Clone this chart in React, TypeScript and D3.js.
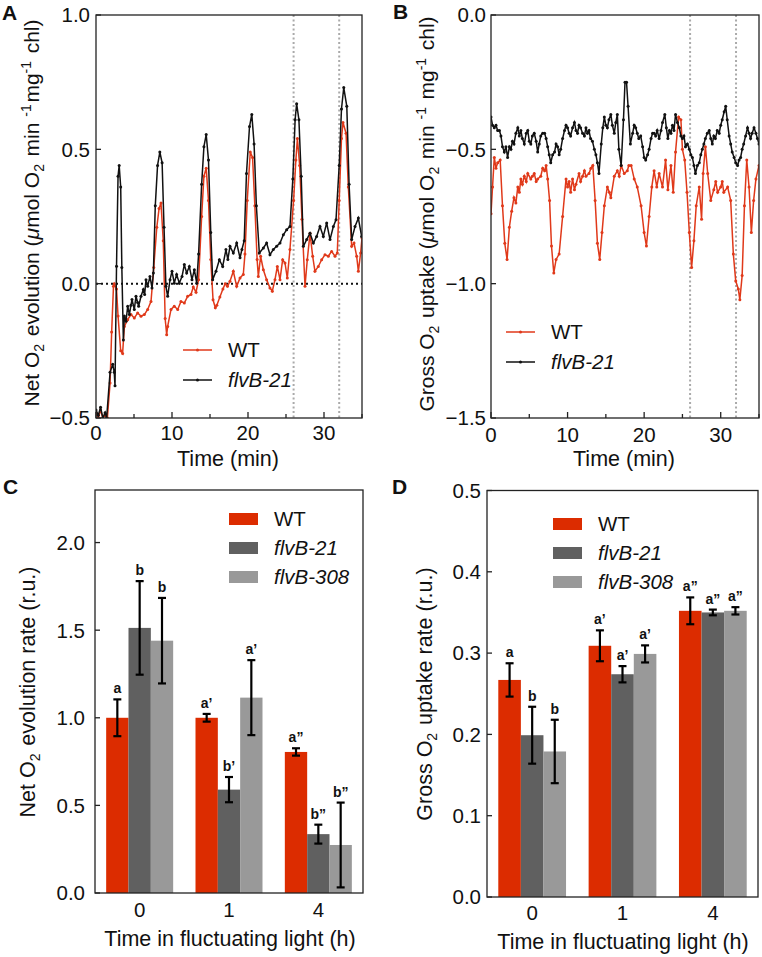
import React from 'react';
import * as d3 from 'd3';

// time courses, [time (min), rate]
const netWT: [number, number][] = [
  [0, -0.48], [0.3, -0.5], [0.6, -0.47], [0.9, -0.5], [1.2, -0.49], [1.5, -0.5], [1.85, -0.37], [2.06, -0.18],
  [2.3, -0.01], [2.4, 0.0], [2.7, -0.02], [2.9, -0.12], [3.25, -0.25], [3.5, -0.26], [3.73, -0.159], [4.17, -0.134],
  [4.6, -0.115], [5.04, -0.128], [5.48, -0.109], [5.92, -0.121], [6.36, -0.115], [6.8, -0.096], [7.24, -0.066], [7.6, 0.06],
  [8.0, 0.21], [8.3, 0.28], [8.55, 0.3], [8.85, 0.16], [9.1, -0.13], [9.3, -0.19], [9.43, -0.159], [9.87, -0.096],
  [10.3, -0.084], [10.75, -0.096], [11.18, -0.066], [11.62, -0.072], [12.06, -0.047], [12.5, -0.04], [12.8, -0.012], [13.16, -0.032],
  [13.5, 0.015], [13.9, 0.25], [14.2, 0.4], [14.5, 0.43], [14.8, 0.31], [15.1, 0.09], [15.4, -0.06], [15.7, -0.09],
  [15.9, -0.08], [16.3, -0.05], [16.7, -0.02], [17.0, 0.0], [17.3, -0.01], [17.63, 0.009], [18.07, 0.046], [18.51, -0.01],
  [18.95, 0.021], [19.38, 0.034], [19.6, 0.11], [19.9, 0.31], [20.3, 0.49], [20.6, 0.47], [20.9, 0.29], [21.2, 0.09],
  [21.36, 0.027], [21.66, 0.102], [22.02, 0.052], [22.45, 0.015], [22.89, -0.016], [23.2, -0.028], [23.55, 0.015], [23.86, 0.064],
  [24.21, 0.015], [24.56, 0.089], [24.87, 0.077], [25.17, 0.021], [25.52, 0.127], [26.0, 0.31], [26.3, 0.46], [26.5, 0.54],
  [26.8, 0.44], [27.1, 0.24], [27.5, -0.01], [27.8, 0.089], [28.16, 0.188], [28.51, 0.102], [28.81, 0.046], [29.25, 0.064],
  [29.69, 0.089], [30.13, 0.108], [30.57, 0.102], [31.0, 0.12], [31.45, 0.102], [31.75, 0.114], [32.0, 0.31], [32.3, 0.54],
  [32.5, 0.6], [32.9, 0.56], [33.2, 0.36], [33.64, 0.139], [33.95, 0.151], [34.3, 0.102], [34.52, 0.046], [34.82, 0.114],
  [35.0, 0.17],
];
const netFlvB21: [number, number][] = [
  [0, -0.47], [0.3, -0.49], [0.6, -0.46], [0.9, -0.5], [1.2, -0.48], [1.4, -0.5], [1.85, -0.33], [2.2, -0.3],
  [2.4, -0.33], [2.5, -0.38], [2.7, 0.065], [2.9, 0.4], [3.05, 0.44], [3.25, 0.36], [3.4, 0.06], [3.6, -0.21],
  [3.73, -0.12], [3.95, -0.14], [4.17, -0.084], [4.39, -0.115], [4.6, -0.08], [4.74, -0.059], [5.04, -0.096], [5.26, -0.047],
  [5.48, -0.07], [5.61, -0.084], [5.92, -0.047], [6.23, -0.022], [6.4, -0.04], [6.58, 0.015], [6.8, -0.01], [7.1, 0.027],
  [7.37, -0.016], [7.55, 0.04], [7.8, 0.29], [8.1, 0.44], [8.4, 0.49], [8.7, 0.45], [8.95, 0.21], [9.2, -0.01],
  [9.43, -0.047], [9.74, 0.015], [10.0, 0.046], [10.3, 0.002], [10.61, 0.034], [10.96, 0.002], [11.32, 0.027], [11.62, 0.071],
  [11.93, 0.04], [12.28, 0.064], [12.63, 0.015], [12.94, 0.052], [13.25, 0.002], [13.5, 0.11], [13.9, 0.37], [14.2, 0.51],
  [14.5, 0.555], [14.8, 0.46], [15.1, 0.19], [15.35, 0.015], [15.79, 0.046], [16.23, 0.089], [16.67, 0.064], [17.1, 0.127],
  [17.35, 0.09], [17.63, 0.139], [18.07, 0.114], [18.51, 0.151], [18.95, 0.096], [19.2, 0.127], [19.5, 0.16], [19.8, 0.41],
  [20.2, 0.585], [20.5, 0.63], [20.8, 0.52], [21.1, 0.29], [21.49, 0.114], [22.02, 0.133], [22.45, 0.151], [22.89, 0.108],
  [23.33, 0.127], [23.77, 0.139], [24.21, 0.151], [24.65, 0.182], [25.09, 0.201], [25.52, 0.213], [25.9, 0.39], [26.2, 0.61],
  [26.4, 0.67], [26.7, 0.61], [27.0, 0.4], [27.28, 0.139], [27.72, 0.164], [28.16, 0.188], [28.6, 0.151], [29.03, 0.176],
  [29.47, 0.213], [29.91, 0.176], [30.35, 0.226], [30.79, 0.164], [31.23, 0.213], [31.58, 0.238], [32.0, 0.44], [32.3, 0.65],
  [32.6, 0.73], [33.0, 0.66], [33.3, 0.37], [33.64, 0.164], [34.08, 0.213], [34.52, 0.244], [34.95, 0.176],
];
const grossWT: [number, number][] = [
  [0, -0.74], [0.2, -0.64], [0.43, -0.53], [0.65, -0.57], [0.87, -0.55], [1.2, -0.54], [1.5, -0.71], [1.8, -0.85],
  [2.1, -0.91], [2.4, -0.79], [2.7, -0.73], [3.0, -0.68], [3.25, -0.7], [3.5, -0.64], [3.7, -0.66], [3.9, -0.61],
  [4.1, -0.63], [4.35, -0.6], [4.6, -0.62], [4.8, -0.59], [5.2, -0.61], [5.4, -0.6], [5.65, -0.59], [5.9, -0.62],
  [6.1, -0.61], [6.5, -0.6], [6.75, -0.57], [7.0, -0.58], [7.2, -0.56], [7.4, -0.61], [7.65, -0.69], [7.9, -0.86],
  [8.2, -0.96], [8.5, -0.91], [8.9, -0.89], [9.35, -0.75], [9.8, -0.61], [10.0, -0.64], [10.2, -0.62], [10.4, -0.66],
  [10.65, -0.61], [10.9, -0.65], [11.1, -0.63], [11.5, -0.59], [11.7, -0.62], [11.96, -0.6], [12.2, -0.58], [12.4, -0.6],
  [12.8, -0.59], [13.05, -0.57], [13.3, -0.56], [13.6, -0.69], [13.9, -0.85], [14.2, -0.91], [14.5, -0.81], [14.8, -0.71],
  [15.2, -0.64], [15.45, -0.66], [15.65, -0.68], [16.1, -0.6], [16.5, -0.58], [16.75, -0.6], [17.0, -0.56], [17.4, -0.59],
  [17.8, -0.58], [18.0, -0.56], [18.3, -0.56], [18.7, -0.61], [19.1, -0.64], [19.6, -0.71], [20.0, -0.81], [20.3, -0.86],
  [20.65, -0.75], [21.0, -0.64], [21.3, -0.58], [21.65, -0.64], [21.96, -0.59], [22.4, -0.64], [22.8, -0.54], [23.1, -0.65],
  [23.5, -0.56], [23.8, -0.66], [24.1, -0.51], [24.5, -0.38], [24.8, -0.39], [25.0, -0.5], [25.3, -0.54], [25.6, -0.66],
  [25.9, -0.81], [26.2, -0.94], [26.5, -0.84], [26.8, -0.71], [27.2, -0.64], [27.5, -0.76], [27.7, -0.59], [28.0, -0.49],
  [28.3, -0.59], [28.7, -0.69], [29.1, -0.65], [29.35, -0.62], [29.6, -0.66], [30.0, -0.64], [30.2, -0.62], [30.4, -0.66],
  [30.9, -0.64], [31.3, -0.69], [31.65, -0.89], [31.96, -0.99], [32.3, -1.02], [32.5, -1.06], [32.8, -0.97], [33.1, -0.71],
  [33.4, -0.54], [33.7, -0.64], [34.0, -0.81], [34.3, -0.69], [34.6, -0.61], [35.0, -0.56],
];
const grossFlvB21: [number, number][] = [
  [0, -0.38], [0.2, -0.41], [0.43, -0.42], [0.65, -0.41], [0.87, -0.43], [1.1, -0.43], [1.3, -0.45], [1.5, -0.49],
  [1.74, -0.51], [1.95, -0.49], [2.17, -0.53], [2.4, -0.49], [2.6, -0.5], [2.8, -0.47], [3.0, -0.48], [3.25, -0.44],
  [3.5, -0.42], [3.7, -0.45], [3.9, -0.43], [4.1, -0.46], [4.35, -0.48], [4.6, -0.44], [4.8, -0.43], [5.0, -0.47],
  [5.2, -0.48], [5.4, -0.45], [5.65, -0.44], [5.9, -0.47], [6.1, -0.51], [6.3, -0.48], [6.5, -0.45], [6.75, -0.44],
  [7.0, -0.44], [7.2, -0.46], [7.4, -0.49], [7.6, -0.52], [7.8, -0.55], [8.05, -0.52], [8.3, -0.51], [8.5, -0.48],
  [8.7, -0.49], [8.9, -0.52], [9.1, -0.5], [9.35, -0.46], [9.6, -0.43], [9.8, -0.41], [10.0, -0.42], [10.2, -0.44],
  [10.4, -0.45], [10.65, -0.42], [10.9, -0.4], [11.1, -0.43], [11.3, -0.44], [11.5, -0.41], [11.7, -0.42], [11.96, -0.44],
  [12.2, -0.45], [12.4, -0.42], [12.6, -0.44], [12.8, -0.43], [13.0, -0.46], [13.25, -0.47], [13.5, -0.5], [13.7, -0.52],
  [13.9, -0.55], [14.1, -0.59], [14.4, -0.48], [14.6, -0.42], [14.8, -0.38], [15.0, -0.41], [15.2, -0.42], [15.4, -0.39],
  [15.65, -0.37], [15.85, -0.41], [16.1, -0.44], [16.3, -0.4], [16.5, -0.37], [16.7, -0.5], [17.0, -0.56], [17.3, -0.39],
  [17.5, -0.25], [17.7, -0.25], [17.9, -0.34], [18.2, -0.48], [18.5, -0.44], [18.7, -0.41], [18.9, -0.42], [19.1, -0.44],
  [19.3, -0.46], [19.55, -0.45], [19.8, -0.49], [20.0, -0.53], [20.2, -0.54], [20.45, -0.52], [20.65, -0.5], [20.9, -0.46],
  [21.1, -0.44], [21.3, -0.44], [21.5, -0.45], [21.7, -0.43], [21.96, -0.46], [22.2, -0.43], [22.4, -0.4], [22.7, -0.37],
  [22.9, -0.42], [23.1, -0.46], [23.3, -0.43], [23.5, -0.44], [23.7, -0.41], [23.9, -0.43], [24.1, -0.37], [24.35, -0.4],
  [24.6, -0.42], [24.8, -0.45], [25.0, -0.46], [25.2, -0.45], [25.4, -0.49], [25.65, -0.48], [25.9, -0.5], [26.1, -0.52],
  [26.3, -0.53], [26.5, -0.56], [26.7, -0.59], [26.95, -0.56], [27.2, -0.55], [27.4, -0.52], [27.6, -0.5], [27.8, -0.48],
  [28.0, -0.46], [28.25, -0.44], [28.5, -0.43], [28.7, -0.46], [28.9, -0.48], [29.1, -0.45], [29.3, -0.46], [29.55, -0.43],
  [29.8, -0.44], [30.0, -0.41], [30.2, -0.39], [30.45, -0.36], [30.65, -0.34], [30.85, -0.39], [31.1, -0.45], [31.3, -0.48],
  [31.5, -0.51], [31.75, -0.53], [31.96, -0.55], [32.2, -0.56], [32.4, -0.54], [32.6, -0.53], [32.8, -0.5], [33.0, -0.48],
  [33.25, -0.45], [33.5, -0.42], [33.7, -0.44], [33.9, -0.46], [34.1, -0.44], [34.35, -0.42], [34.6, -0.44], [34.8, -0.46],
  [35.0, -0.48],
];

// bar panels
const groups = ['0', '1', '4'];
const strains = ['WT', 'flvB-21', 'flvB-308'];
const netRateWT = [1.0, 1.0, 0.805];
const netRateWTErr = [0.105, 0.022, 0.021];
const netRateB21 = [1.513, 0.59, 0.336];
const netRateB21Err = [0.267, 0.072, 0.054];
const netRateB308 = [1.44, 1.115, 0.274];
const netRateB308Err = [0.244, 0.214, 0.242];
const netLetters = [['a', 'a’', 'a”'], ['b', 'b’', 'b”'], ['b', 'a’', 'b”']];

const grossRateWT = [0.267, 0.309, 0.352];
const grossRateWTErr = [0.0205, 0.019, 0.0165];
const grossRateB21 = [0.199, 0.274, 0.35];
const grossRateB21Err = [0.035, 0.01, 0.0035];
const grossRateB308 = [0.179, 0.299, 0.352];
const grossRateB308Err = [0.039, 0.0105, 0.0045];
const grossLetters = [['a', 'a’', 'a”'], ['b', 'a’', 'a”'], ['b', 'a’', 'a”']];

const FONT = 'Liberation Sans, Arial, Helvetica, sans-serif';
const RED_LINE = '#e0391a';
const BAR_COLORS = ['#dc2c00', '#606060', '#999999'];

const Sub = ({ children, size = 14 }: any) => (
  <>
    <tspan dy={5} fontSize={size}>{children}</tspan>
    <tspan dy={-5}>{'\u200A'}</tspan>
  </>
);
const Sup = ({ children, size = 14 }: any) => (
  <>
    <tspan dy={-8} fontSize={size}>{children}</tspan>
    <tspan dy={8}>{'\u200A'}</tspan>
  </>
);

const TimePanel = ({ id, x0, x1, y0, y1, yDomain, yTicks, series, legend, zeroLine, title, titleX, titleY, tickLabelEnd, xLabelY }: any) => {
  const x = d3.scaleLinear().domain([0, 35]).range([x0, x1]);
  const y = d3.scaleLinear().domain(yDomain).range([y1, y0]);
  const line = d3.line<[number, number]>().x(d => x(d[0])).y(d => y(d[1]));
  const fmt = d3.format('.1f');
  return (
    <g>
      <defs>
        <clipPath id={`clip-${id}`}>
          <rect x={x0} y={y0} width={x1 - x0} height={y1 - y0} />
        </clipPath>
      </defs>
      {[26, 32].map(t => (
        <line key={t} x1={x(t)} x2={x(t)} y1={y0} y2={y1} stroke="#aaaaaa" strokeWidth={2} strokeDasharray="2,2.5" />
      ))}
      {zeroLine && (
        <line x1={x0} x2={x1} y1={y(0)} y2={y(0)} stroke="#111" strokeWidth={2} strokeDasharray="2,3" />
      )}
      <g clipPath={`url(#clip-${id})`}>
        {series.map((s: any) => (
          <g key={s.name}>
            <path d={line(s.data) || ''} fill="none" stroke={s.color} strokeWidth={1.5} />
            {s.data.map((d: [number, number], i: number) => (
              <circle key={i} cx={x(d[0])} cy={y(d[1])} r={1.5} fill={s.color} />
            ))}
          </g>
        ))}
      </g>
      <rect x={x0} y={y0} width={x1 - x0} height={y1 - y0} fill="none" stroke="#222" strokeWidth={1.3} />
      {yTicks.map((v: number) => (
        <g key={v}>
          <line x1={x0} x2={x0 + 5} y1={y(v)} y2={y(v)} stroke="#222" strokeWidth={1.3} />
          <text x={tickLabelEnd} y={y(v)} dy="0.36em" textAnchor="end" fontSize={20.5} fontFamily={FONT} fill="#111">
            {fmt(v)}
          </text>
        </g>
      ))}
      {[0, 5, 10, 15, 20, 25, 30, 35].map(t => (
        <line key={t} x1={x(t)} x2={x(t)} y1={y1} y2={y1 - (t % 10 === 0 ? 6 : 4)} stroke="#222" strokeWidth={1.3} />
      ))}
      {[0, 10, 20, 30].map(t => (
        <text key={t} x={x(t)} y={xLabelY} textAnchor="middle" fontSize={20.5} fontFamily={FONT} fill="#111">
          {t}
        </text>
      ))}
      <text x={(x0 + x1) / 2 - 1} y={466} textAnchor="middle" fontSize={21.5} fontFamily={FONT} fill="#111">
        Time (min)
      </text>
      {series.map((s: any, i: number) => (
        <g key={s.name}>
          <line x1={legend.x} x2={legend.x + 29} y1={legend.y + i * 30} y2={legend.y + i * 30} stroke={s.color} strokeWidth={1.5} />
          <circle cx={legend.x + 14.5} cy={legend.y + i * 30} r={1.5} fill={s.color} />
          <text x={legend.x + 45} y={legend.y + i * 30} dy="0.36em" fontSize={20.5} fontFamily={FONT} fill="#111"
            fontStyle={s.italic ? 'italic' : 'normal'}>
            {s.name}
          </text>
        </g>
      ))}
      <text transform={`translate(${titleX},${titleY}) rotate(-90)`} textAnchor="middle" fontSize={21} fontFamily={FONT} fill="#111">
        {title}
      </text>
    </g>
  );
};

const BarPanel = ({ x0, x1, y0, y1, yMax, yTicks, values, errors, letters, legend, title, titleX, titleY, tickLabelEnd, xLabelY, xTitleX, xTitleY }: any) => {
  const xb = d3.scaleBand().domain(groups).range([x0, x1]).paddingInner(0.25).paddingOuter(0.125);
  const xs = d3.scaleBand().domain(strains).range([0, xb.bandwidth()]);
  const y = d3.scaleLinear().domain([0, yMax]).range([y1, y0]);
  const fmt = d3.format('.1f');
  return (
    <g>
      {strains.map((s, si) =>
        groups.map((g, gi) => {
          const bx = (xb(g) as number) + (xs(s) as number);
          const w = xs.bandwidth();
          const v = values[si][gi];
          const e = errors[si][gi];
          const cx = bx + w / 2;
          return (
            <g key={s + g}>
              <rect x={bx} y={y(v)} width={w} height={y(0) - y(v)} fill={BAR_COLORS[si]} />
              <line x1={cx} x2={cx} y1={y(v + e)} y2={y(v - e)} stroke="#000" strokeWidth={2.2} />
              <line x1={cx - 4} x2={cx + 4} y1={y(v + e)} y2={y(v + e)} stroke="#000" strokeWidth={2.2} />
              <line x1={cx - 4} x2={cx + 4} y1={y(v - e)} y2={y(v - e)} stroke="#000" strokeWidth={2.2} />
              <text x={cx} y={y(v + e) - 6} textAnchor="middle" fontSize={14} fontWeight="bold" fontFamily={FONT} fill="#111">
                {letters[si][gi]}
              </text>
            </g>
          );
        })
      )}
      <rect x={x0} y={y0} width={x1 - x0} height={y1 - y0} fill="none" stroke="#222" strokeWidth={1.3} />
      {yTicks.map((v: number) => (
        <g key={v}>
          <line x1={x0} x2={x0 + 5} y1={y(v)} y2={y(v)} stroke="#222" strokeWidth={1.3} />
          <text x={tickLabelEnd} y={y(v)} dy="0.36em" textAnchor="end" fontSize={20.5} fontFamily={FONT} fill="#111">
            {fmt(v)}
          </text>
        </g>
      ))}
      {groups.map(g => (
        <text key={g} x={(xb(g) as number) + xb.bandwidth() / 2} y={xLabelY} textAnchor="middle" fontSize={20.5} fontFamily={FONT} fill="#111">
          {g}
        </text>
      ))}
      <text x={xTitleX} y={xTitleY} textAnchor="middle" fontSize={21.5} fontFamily={FONT} fill="#111">
        Time in fluctuating light (h)
      </text>
      {strains.map((s, i) => (
        <g key={s}>
          <rect x={legend.x} y={legend.y + i * 29 - 6} width={29} height={12} fill={BAR_COLORS[i]} />
          <text x={legend.x + 45} y={legend.y + i * 29} dy="0.36em" fontSize={20.5} fontFamily={FONT} fill="#111"
            fontStyle={i > 0 ? 'italic' : 'normal'}>
            {s}
          </text>
        </g>
      ))}
      <text transform={`translate(${titleX},${titleY}) rotate(-90)`} textAnchor="middle" fontSize={21.5} fontFamily={FONT} fill="#111">
        {title}
      </text>
    </g>
  );
};

const PanelLabel = ({ x, y, children }: any) => (
  <text x={x} y={y} fontSize={21} fontWeight="bold" fontFamily={FONT} fill="#111">{children}</text>
);

export default function App() {
  const lineSeries = (wt: [number, number][], mut: [number, number][]) => [
    { name: 'WT', data: wt, color: RED_LINE, italic: false },
    { name: 'flvB-21', data: mut, color: '#111111', italic: true },
  ];
  return (
    <svg width={762} height={957} style={{ position: 'absolute', left: 0, top: 0, background: '#fff' }}>
      <PanelLabel x={2} y={20}>A</PanelLabel>
      <PanelLabel x={393} y={19}>B</PanelLabel>
      <PanelLabel x={3} y={494}>C</PanelLabel>
      <PanelLabel x={392} y={494}>D</PanelLabel>

      <TimePanel
        id="a" x0={96} x1={362} y0={15} y1={418} yDomain={[-0.5, 1.0]} yTicks={[-0.5, 0, 0.5, 1.0]}
        series={lineSeries(netWT, netFlvB21)} legend={{ x: 183, y: 350 }} zeroLine tickLabelEnd={90} xLabelY={440}
        titleX={39} titleY={213}
        title={<>Net O<Sub>2</Sub> evolution (<tspan fontStyle="italic">μ</tspan>mol O<Sub>2</Sub> min <Sup>-1</Sup>mg<Sup>-1</Sup> chl)</>}
      />
      <TimePanel
        id="b" x0={491} x1={759} y0={15} y1={418} yDomain={[-1.5, 0]} yTicks={[-1.5, -1.0, -0.5, 0]}
        series={lineSeries(grossWT, grossFlvB21)} legend={{ x: 506, y: 332 }} zeroLine={false} tickLabelEnd={486} xLabelY={442}
        titleX={434} titleY={214}
        title={<>Gross O<Sub>2</Sub> uptake (<tspan fontStyle="italic">μ</tspan>mol O<Sub>2</Sub> min <Sup>-1</Sup> mg<Sup>-1</Sup> chl)</>}
      />
      <BarPanel
        x0={95} x1={363} y0={490} y1={893} yMax={2.3} yTicks={[0, 0.5, 1.0, 1.5, 2.0]}
        values={[netRateWT, netRateB21, netRateB308]} errors={[netRateWTErr, netRateB21Err, netRateB308Err]}
        letters={netLetters} legend={{ x: 229, y: 519 }} tickLabelEnd={85} xLabelY={917} xTitleX={230} xTitleY={946}
        titleX={35} titleY={692}
        title={<>Net O<Sub>2</Sub> evolution rate (r.u.)</>}
      />
      <BarPanel
        x0={487} x1={758} y0={490.5} y1={897} yMax={0.5} yTicks={[0, 0.1, 0.2, 0.3, 0.4, 0.5]}
        values={[grossRateWT, grossRateB21, grossRateB308]} errors={[grossRateWTErr, grossRateB21Err, grossRateB308Err]}
        letters={grossLetters} legend={{ x: 553, y: 524 }} tickLabelEnd={481} xLabelY={920} xTitleX={623} xTitleY={949}
        titleX={432} titleY={694}
        title={<>Gross O<Sub>2</Sub> uptake rate (r.u.)</>}
      />
    </svg>
  );
}
